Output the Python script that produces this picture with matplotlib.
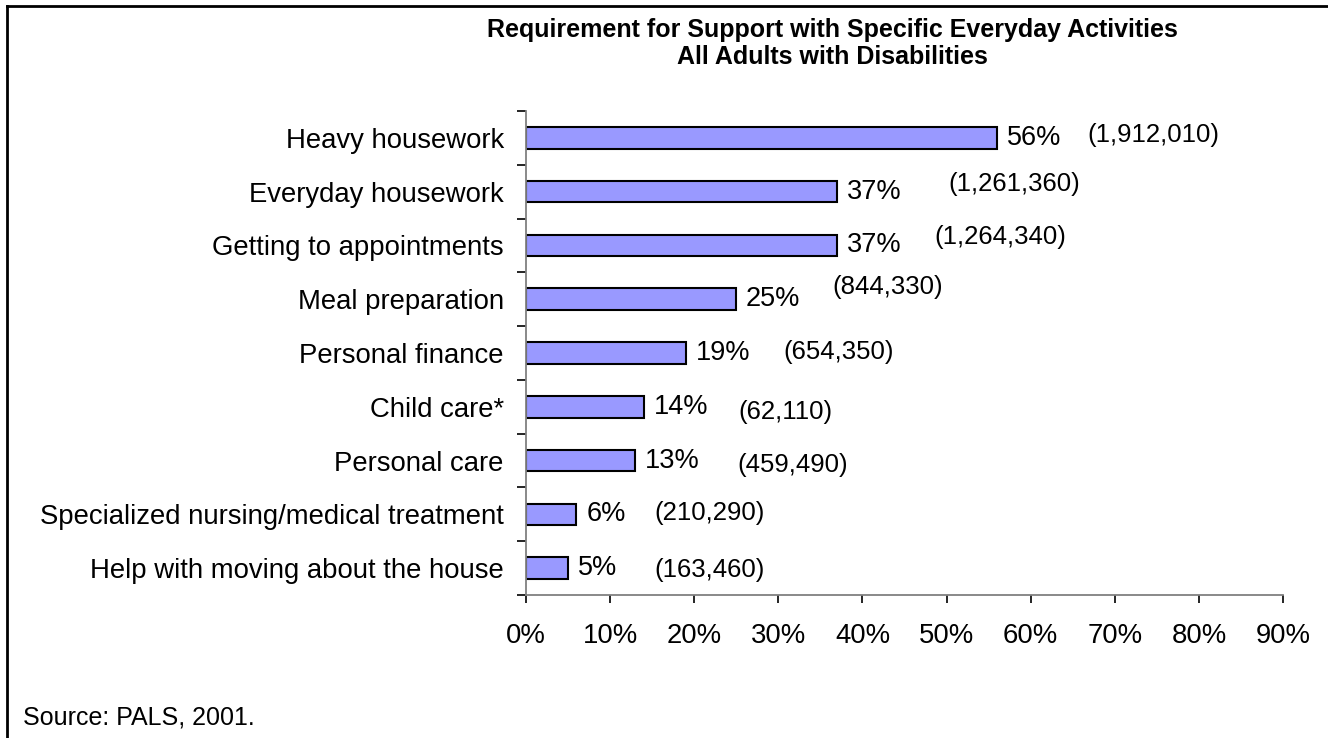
import matplotlib
matplotlib.use("Agg")
import matplotlib.pyplot as plt
from matplotlib.lines import Line2D
from matplotlib.ticker import MultipleLocator, FixedLocator, FuncFormatter

plt.rcParams['font.family'] = ['Liberation Sans', 'DejaVu Sans']

activities = ["Heavy housework", "Everyday housework", "Getting to appointments",
              "Meal preparation", "Personal finance", "Child care*", "Personal care",
              "Specialized nursing/medical treatment", "Help with moving about the house"]
percent = [56, 37, 37, 25, 19, 14, 13, 6, 5]
counts = ["(1,912,010)", "(1,261,360)", "(1,264,340)", "(844,330)", "(654,350)",
          "(62,110)", "(459,490)", "(210,290)", "(163,460)"]

# where the count labels sit (x in %, y in category units)
count_pos = [(66.7, -0.06), (50.2, 0.86), (48.6, 1.84), (36.4, 2.77), (30.6, 3.98),
             (25.2, 5.09), (25.1, 6.08), (15.3, 6.97), (15.3, 8.03)]

fig = plt.figure(figsize=(13.28, 7.38), dpi=100)
ax = fig.add_axes([526/1328, 1 - 595/738, (1283 - 526)/1328, (595 - 111)/738])

y = list(range(len(activities)))
ax.barh(y, percent, height=0.4, color='#9999FF', edgecolor='black', linewidth=1.5)

ax.set_xlim(0, 90)
ax.set_ylim(len(activities) - 0.5, -0.5)

for yi, p in zip(y, percent):
    ax.annotate(f"{p}%", (p, yi), xytext=(7, 0), textcoords='offset points',
                va='center', ha='left', fontsize=19.5)
for (cx, cy), c in zip(count_pos, counts):
    ax.text(cx, cy, c, va='center', ha='left', fontsize=18.5)

ax.xaxis.set_major_locator(MultipleLocator(10))
ax.xaxis.set_major_formatter(FuncFormatter(lambda v, _: f"{v:.0f}%"))
ax.tick_params(axis='x', direction='out', length=6, width=1.2, color='black',
               labelsize=19.8, pad=14)

ax.set_yticks(y)
ax.set_yticklabels(activities)
ax.yaxis.set_minor_locator(FixedLocator([i - 0.5 for i in range(len(activities) + 1)]))
ax.tick_params(axis='y', which='major', length=0, labelsize=19.8, pad=16)
ax.tick_params(axis='y', which='minor', direction='out', length=6.5, width=1.2, color='black')

for side in ['top', 'right']:
    ax.spines[side].set_visible(False)
for side in ['left', 'bottom']:
    ax.spines[side].set_color('#808080')
    ax.spines[side].set_linewidth(1.3)

fig.text(832/1328, 1 - 30/738, "Requirement for Support with Specific Everyday Activities",
         ha='center', va='center', fontsize=18, fontweight='bold')
fig.text(832/1328, 1 - 57/738, "All Adults with Disabilities",
         ha='center', va='center', fontsize=18, fontweight='bold')
fig.text(23/1328, 1 - 717/738, "Source: PALS, 2001.", ha='left', va='center', fontsize=18)

# outer frame: top and left edges only
fig.add_artist(Line2D([7/1328, 1], [1 - 6/738, 1 - 6/738], color='black', linewidth=2))
fig.add_artist(Line2D([7/1328, 7/1328], [0, 1 - 6/738], color='black', linewidth=2))

fig.savefig("out.png", dpi=100)
